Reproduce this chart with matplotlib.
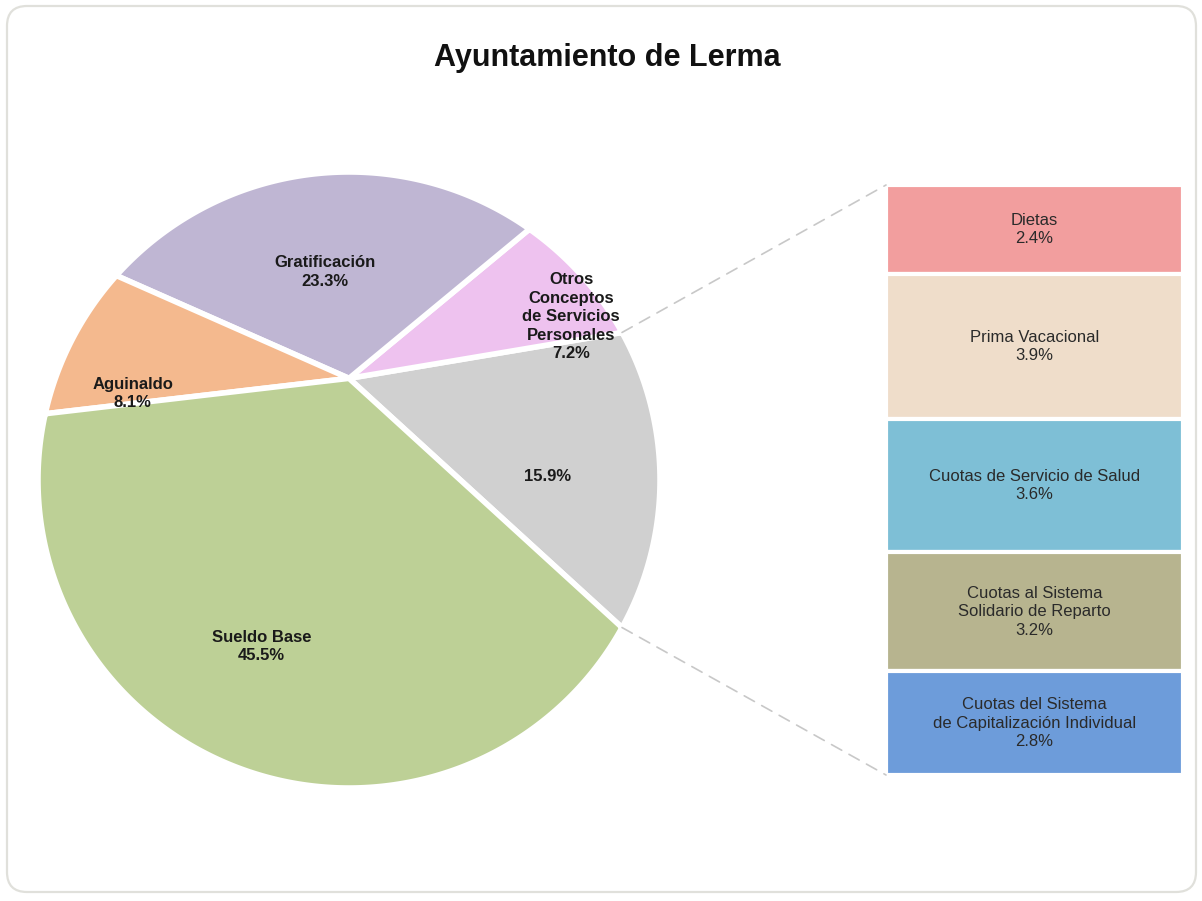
import numpy as np
import matplotlib
matplotlib.use('Agg')
import matplotlib.pyplot as plt
from matplotlib.patches import FancyBboxPatch, ConnectionPatch, Polygon

plt.rcParams['font.family'] = ['Liberation Sans', 'DejaVu Sans']

# ---------------- data ----------------
title = 'Ayuntamiento de Lerma'

pie_names = ['', 'Otros\nConceptos\nde Servicios\nPersonales', 'Gratificación', 'Aguinaldo', 'Sueldo Base']
pie_values = [15.9, 7.2, 23.3, 8.1, 45.5]
pie_colors = ['#D0D0D0', '#EEC2EF', '#BFB6D3', '#F4B98E', '#BDD096']

bar_names = ['Dietas', 'Prima Vacacional', 'Cuotas de Servicio de Salud',
             'Cuotas al Sistema\nSolidario de Reparto',
             'Cuotas del Sistema\nde Capitalización Individual']
bar_values = [2.4, 3.9, 3.6, 3.2, 2.8]
bar_colors = ['#F29E9E', '#EFDDCA', '#7EBFD6', '#B7B48F', '#6D9CDA']

# label placement styles (radius fraction, angle offset in degrees)
label_r = [0.64, 0.89, 0.68, 0.75, 0.61]
label_dtheta = [1, -5, 0, 5, -7]
apex_offset = 0.33   # perspective: slices meet above the circle's centre

W, H = 1202, 901
fig = plt.figure(figsize=(W / 100, H / 100), dpi=100)


def box(x0, y0, x1, y1):
    return [x0 / W, 1 - y1 / H, (x1 - x0) / W, (y1 - y0) / H]


# background frame
bg = fig.add_axes([0, 0, 1, 1], zorder=-5)
bg.set_xlim(0, W)
bg.set_ylim(H, 0)
bg.axis('off')
bg.add_patch(FancyBboxPatch((7, 6), 1189, 886, boxstyle='round,pad=0,rounding_size=20',
                            fc='white', ec='#E0E0DB', lw=1.6))

fig.text(607 / W, 1 - 58 / H, title, ha='center', va='center',
         fontsize=22, fontweight='bold', color='#111111')

# ---------------- pie ----------------
ax = fig.add_axes(box(38, 172, 660, 788))
start = -pie_values[0] * 3.6 / 2
wedges, _ = ax.pie(pie_values, colors=pie_colors, startangle=start, counterclock=True,
                   radius=1)
ax.set_aspect('auto')
ax.set_xlim(-1, 1)
ax.set_ylim(-1, 1)
ax.axis('off')

# redraw each slice in the tilted view: arc on the circle, tip at the raised apex
for w, c in zip(wedges, pie_colors):
    w.set_visible(False)
    t = np.deg2rad(np.linspace(w.theta1, w.theta2, 300))
    xs = np.concatenate([[0], w.r * np.cos(t)])
    ys = np.concatenate([[apex_offset], w.r * np.sin(t)])
    poly = Polygon(np.column_stack([xs, ys]), closed=True, fc=c, ec='white',
                   lw=4, joinstyle='round', clip_on=False)
    ax.add_patch(poly)

for w, name, v, r, dt in zip(wedges, pie_names, pie_values, label_r, label_dtheta):
    mid = np.deg2rad((w.theta1 + w.theta2) / 2 + dt)
    txt = f'{name}\n{v:.1f}%' if name else f'{v:.1f}%'
    ax.text(r * np.cos(mid), r * np.sin(mid), txt, ha='center', va='center',
            fontsize=12, fontweight='bold', color='#1a1a1a', linespacing=1.3)

# ---------------- bar of pie ----------------
ax2 = fig.add_axes(box(886, 185, 1183, 775))
bottoms = np.concatenate([[0], np.cumsum(bar_values)[:-1]])
bars = ax2.bar(0, bar_values, bottom=bottoms, width=1, color=bar_colors,
               edgecolor='white', linewidth=3)
for b in bars:
    b.set_clip_on(False)
ax2.set_xlim(-0.5, 0.5)
ax2.set_ylim(sum(bar_values), 0)
ax2.axis('off')
for name, v, b in zip(bar_names, bar_values, bottoms):
    ax2.text(0, b + v / 2, f'{name}\n{v:.1f}%', ha='center', va='center',
             fontsize=12, color='#2a2a2a', linespacing=1.3)

# connector lines
gw = wedges[0]
for ang, yb in [(gw.theta2, 0), (gw.theta1, sum(bar_values))]:
    a = np.deg2rad(ang)
    con = ConnectionPatch(xyA=(np.cos(a), np.sin(a)), coordsA='data', axesA=ax,
                          xyB=(-0.5, yb), coordsB='data', axesB=ax2,
                          color='#C8C8C8', lw=1.2, linestyle=(0, (7, 5)))
    fig.add_artist(con)

fig.savefig('out.png', dpi=100, facecolor='white')
